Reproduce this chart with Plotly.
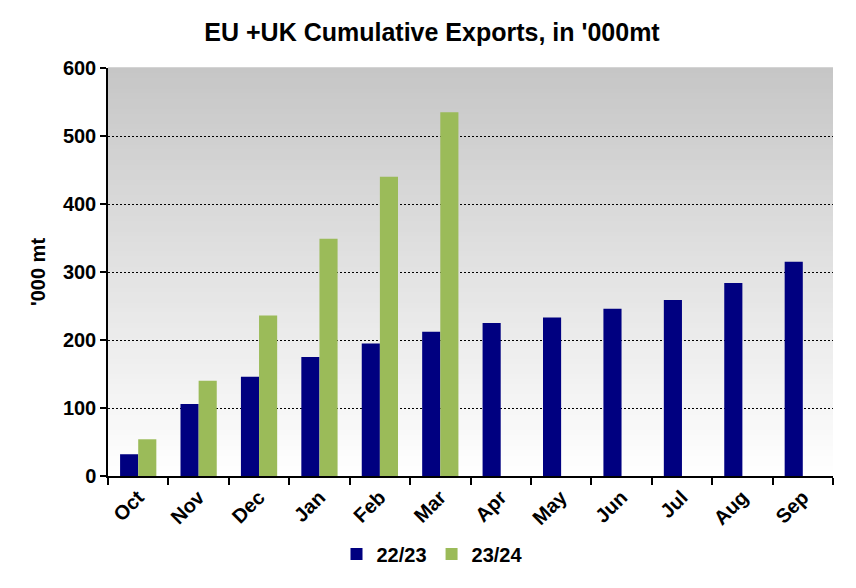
import plotly.graph_objects as go

months = ["Oct", "Nov", "Dec", "Jan", "Feb", "Mar", "Apr", "May", "Jun", "Jul", "Aug", "Sep"]
s2223 = [32, 106, 146, 175, 195, 212, 225, 233, 246, 259, 284, 315]
s2324 = [54, 140, 236, 349, 440, 535, None, None, None, None, None, None]
y_ticks = [0, 100, 200, 300, 400, 500, 600]

FONT = "Liberation Sans, Arial, sans-serif"

fig = go.Figure()
fig.add_trace(go.Bar(name="22/23", x=months, y=s2223, marker=dict(color="#000080", line=dict(width=0))))
fig.add_trace(go.Bar(name="23/24", x=months, y=s2324, marker=dict(color="#9BBB59", line=dict(width=0))))

# gradient background (grey at top to white at bottom)
n = 80
for i in range(n):
    f0 = i / n
    f1 = (i + 1) / n
    frac = (f0 + f1) / 2
    v = int(round(255 - 57 * frac))
    fig.add_shape(type="rect", xref="x domain", yref="y domain", x0=0, x1=1, y0=f0, y1=f1 + 0.002,
                  fillcolor=f"rgb({v},{v},{v})", line=dict(width=0), layer="below")

W, H = 848, 580
fig.update_layout(
    width=W, height=H,
    margin=dict(l=100, r=23, t=60, b=112, autoexpand=False),
    paper_bgcolor="white",
    plot_bgcolor="rgba(0,0,0,0)",
    barmode="group",
    bargap=0.40,
    bargroupgap=0,
    title=dict(text="<b>EU +UK Cumulative Exports, in '000mt</b>", x=0.5, xanchor="center", xref="container",
               y=1 - 24 / H, yanchor="middle", yref="container",
               font=dict(family=FONT, size=25, color="black")),
    font=dict(family=FONT, color="black"),
    legend=dict(orientation="h", x=0.5, xanchor="center", xref="container",
                y=1 - 546 / H, yanchor="middle", yref="container",
                font=dict(family=FONT, size=20, color="black", weight="bold"), itemwidth=30,
                traceorder="normal", bgcolor="rgba(0,0,0,0)"),
    showlegend=True,
)
fig.update_xaxes(
    type="category", showline=True, linecolor="black", linewidth=1.5,
    ticks="outside", tickson="boundaries", ticklen=7, tickcolor="black", tickwidth=1.5,
    tickangle=-45, tickfont=dict(family=FONT, size=20, color="black", weight="bold"),
    showgrid=False, mirror=False, automargin=False,
)
fig.update_yaxes(
    range=[0, 600], tickvals=y_ticks, showline=True, linecolor="black", linewidth=1.5,
    ticks="outside", ticklen=6, tickcolor="black", tickwidth=1.5,
    tickfont=dict(family=FONT, size=20, color="black", weight="bold"),
    showgrid=True, gridcolor="black", griddash="2px,2px", gridwidth=1,
    zeroline=False, automargin=False,
    title=dict(text="<b>'000 mt</b>", font=dict(family=FONT, size=20, color="black"), standoff=12),
)

fig.write_html("out.html")
